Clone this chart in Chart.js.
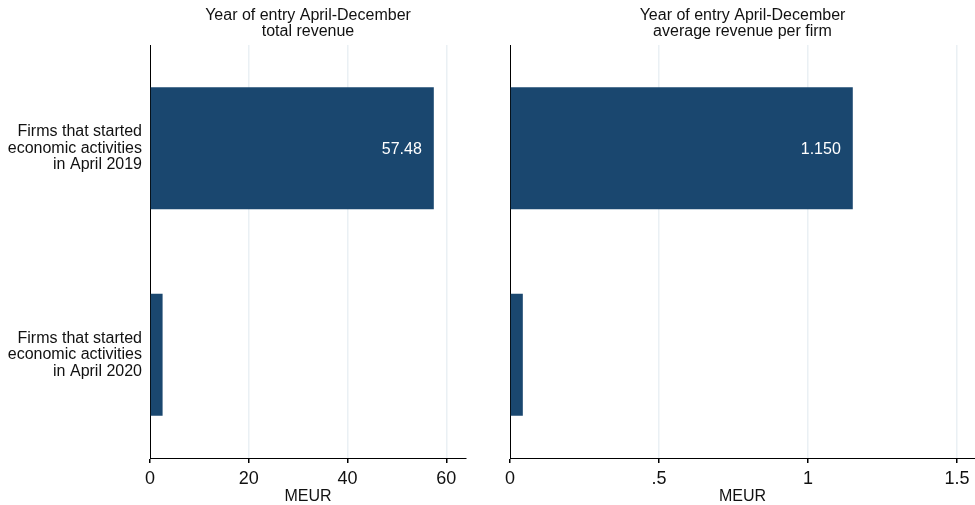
<!DOCTYPE html>
<html>
<head>
<meta charset="utf-8">
<script src="https://cdn.jsdelivr.net/npm/chart.js@4/dist/chart.umd.min.js"></script>
<style>
  html, body { margin: 0; padding: 0; background: #fff; }
  #wrap { position: relative; width: 975px; height: 505px; }
  #c1 { position: absolute; left: 0; top: 0; }
  #c2 { position: absolute; left: 480px; top: 0; }
</style>
</head>
<body>
<div id="wrap">
  <canvas id="c1" width="480" height="505"></canvas>
  <canvas id="c2" width="495" height="505"></canvas>
</div>
<script>
// ---- data ----
const categories = [
  ["Firms that started", "economic activities", "in April 2019"],
  ["Firms that started", "economic activities", "in April 2020"]
];
const totalRevenue = [57.48, 2.55];
const avgRevenue = [1.150, 0.043];
const totalLabels = ["57.48", null];
const avgLabels = ["1.150", null];
const totalTicks = [0, 20, 40, 60];
const avgTicks = [0, 0.5, 1, 1.5];
const titleTotal = ["Year of entry April-December", "total revenue"];
const titleAvg = ["Year of entry April-December", "average revenue per firm"];
const axisTitle = "MEUR";

const FONT = "Arial, 'Liberation Sans', Helvetica, sans-serif";
const TEXT = "#111111";
const BAR = "#1a476f";
const GRID = "#eaf0f4";

const panelPlugin = {
  id: 'panel',
  afterDraw(chart, args, opts) {
    const ctx = chart.ctx;
    const ca = chart.chartArea;
    ctx.save();
    // titles
    ctx.fillStyle = TEXT;
    ctx.font = "16px " + FONT;
    ctx.textAlign = 'center';
    ctx.textBaseline = 'middle';
    const cx = (ca.left + ca.right) / 2;
    opts.title.forEach((t, i) => ctx.fillText(t, cx, 15.5 + i * 16.5));
    // value labels
    const meta = chart.getDatasetMeta(0);
    ctx.fillStyle = "#ffffff";
    ctx.textAlign = 'right';
    meta.data.forEach((el, i) => {
      const lbl = opts.labels[i];
      if (lbl) ctx.fillText(lbl, el.x - 12, el.y + 1);
    });
    ctx.restore();
  }
};

function makeChart(id, values, labels, ticks, max, title, padLeft, padRight, yWidth) {
  return new Chart(document.getElementById(id), {
    type: 'bar',
    data: {
      labels: categories,
      datasets: [{
        data: values,
        backgroundColor: BAR,
        borderWidth: 0,
        barPercentage: 1,
        categoryPercentage: 0.59
      }]
    },
    plugins: [panelPlugin],
    options: {
      indexAxis: 'y',
      responsive: false,
      animation: false,
      devicePixelRatio: 1,
      layout: { padding: { top: 45, left: padLeft, right: padRight, bottom: 0 } },
      plugins: {
        legend: { display: false },
        tooltip: { enabled: false },
        title: { display: false },
        panel: { title: title, labels: labels }
      },
      scales: {
        x: {
          type: 'linear',
          min: 0,
          max: max,
          afterBuildTicks: (s) => { s.ticks = ticks.map(v => ({ value: v })); },
          afterFit: (s) => { s.height = 47; },
          border: { display: true, color: '#000', width: 1 },
          grid: {
            color: (c) => (c.tick && c.tick.value === 0) ? 'rgba(0,0,0,0)' : GRID,
            lineWidth: 1.5,
            tickColor: '#000',
            tickLength: 5,
            drawTicks: true
          },
          ticks: {
            color: TEXT,
            font: { size: 18, family: FONT },
            padding: 5,
            maxRotation: 0,
            callback: (v) => String(v).replace(/^0\./, '.')
          },
          title: {
            display: true,
            text: axisTitle,
            color: TEXT,
            font: { size: 16, family: FONT, lineHeight: 1.0 },
            padding: { top: 0, bottom: 0 }
          }
        },
        y: {
          type: 'category',
          afterFit: (s) => { s.width = yWidth; },
          border: { display: true, color: '#000', width: 1 },
          grid: { display: false, drawTicks: false },
          ticks: {
            display: yWidth > 40,
            color: TEXT,
            font: { size: 16, family: FONT, lineHeight: 1.04 },
            padding: 8,
            crossAlign: 'near'
          }
        }
      }
    }
  });
}

makeChart('c1', totalRevenue, totalLabels, totalTicks, 64, titleTotal, 0, 14, 150);
makeChart('c2', avgRevenue, avgLabels, avgTicks, 1.56, titleAvg, 0, 0, 30);
</script>
</body>
</html>
